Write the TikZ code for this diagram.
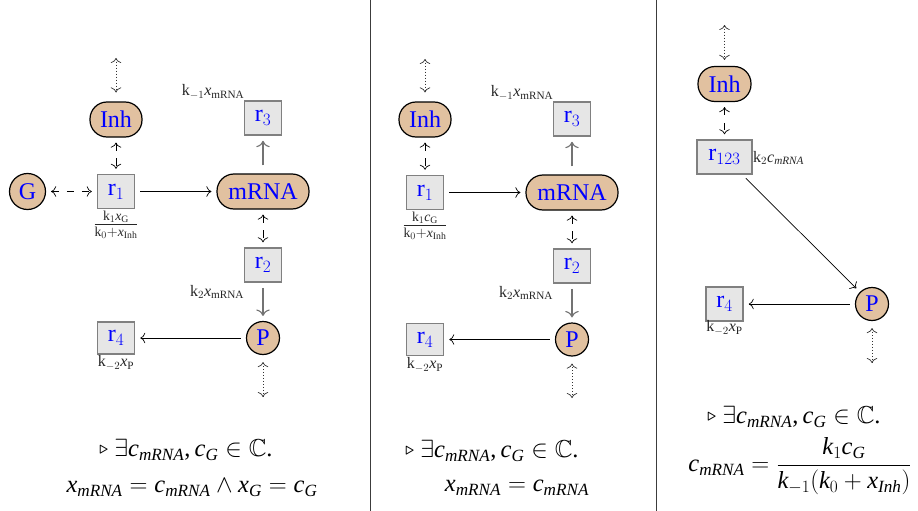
\documentclass[tikz,border=0pt]{standalone}
\usepackage{amsmath,amssymb}
\usepackage{fontspec}
\setmainfont{Liberation Serif}[NFSSFamily=libser]
\DeclareSymbolFont{cmlet}{OML}{cmm}{b}{it}
\DeclareMathSymbol{\trir}{\mathord}{cmlet}{"2E}
\DeclareSymbolFont{letters}{TU}{libser}{m}{it}
\DeclareSymbolFont{upright}{TU}{libser}{m}{n}
\DeclareMathSymbol{,}{\mathpunct}{upright}{"2C}
\DeclareMathSymbol{.}{\mathord}{upright}{"2E}
\newcommand\smalltri{\raisebox{0.12em}{\scalebox{0.62}{$\trir$}}}
\usetikzlibrary{arrows.meta}
\definecolor{spfill}{RGB}{225,193,160}
\definecolor{boxfill}{RGB}{230,230,230}
\definecolor{boxdraw}{RGB}{128,128,128}
\definecolor{divcol}{RGB}{60,60,60}
\newcommand\nodefont{\fontsize{24}{28}\selectfont}
\newcommand\labfont{\fontsize{16}{18}\selectfont}
\newcommand\fracfont{\fontsize{19.5}{22}\selectfont}
\newcommand\formfont{\fontsize{24.5}{30}\selectfont}
\tikzset{
  species/.style={rectangle, draw=black, line width=1.2pt, fill=spfill, text=blue, font=\nodefont, inner sep=0pt, rounded corners=17pt, minimum height=35pt},
  circ/.style={circle, draw=black, line width=1.2pt, fill=spfill, text=blue, font=\nodefont, inner sep=0pt},
  reac/.style={rectangle, draw=boxdraw, line width=1.5pt, fill=boxfill, text=blue, font=\nodefont, inner sep=0pt, minimum width=37pt, minimum height=34pt},
  lab/.style={font=\labfont, inner sep=0pt, text=black!85},
  fraclab/.style={font=\fracfont, inner sep=0pt, text=black!85},
  form/.style={font=\formfont, inner sep=0pt},
  conn/.style={-{To[scale=1.6]}, line width=0.7pt, shorten >=5pt, shorten <=5pt},
  gconn/.style={conn, draw=black!55, line width=1.1pt},
  dconn/.style={{To[scale=1.6]}-{To[scale=1.6]}, line width=0.7pt, dash pattern=on 7.5pt off 7.5pt, shorten >=5pt, shorten <=5pt},
  dotconn/.style={{To[scale=1.6]}-{To[scale=1.6]}, line width=0.7pt, draw=black!80, dash pattern=on 0.8pt off 2.2pt},
  divider/.style={draw=divcol, line width=0.8pt},
}
\begin{document}
\begin{tikzpicture}[x=1pt,y=-1pt]
\useasboundingbox (0,0) rectangle (918,511);
\draw[divider] (370,0) -- (370,511);
\draw[divider] (656,0) -- (656,511);

% ---------- Panel 1 ----------
\node[species, minimum width=52pt] (A-Inh) at (116,119.5) {Inh};
\node[reac] (A-r1) at (116,191.5) {$\mathrm{r}_1$};
\node[circ, minimum size=36pt] (A-G) at (27.5,191.5) {G};
\node[species, minimum width=92pt] (A-mRNA) at (263,191.5) {mRNA};
\node[reac] (A-r3) at (263,118) {$\mathrm{r}_3$};
\node[reac] (A-r2) at (263,265) {$\mathrm{r}_2$};
\node[circ, minimum size=33pt] (A-P) at (263,338) {P};
\node[reac, minimum height=32pt] (A-r4) at (116,338) {$\mathrm{r}_4$};
\coordinate (A-top) at (116,58);
\coordinate (A-bot) at (263,397);
\node[lab] (A-l3) at (213,92) {$\mathrm{k}_{-1}x_{\mathrm{mRNA}}$};
\node[fraclab] (A-l1) at (116,225) {$\frac{\mathrm{k}_1x_{\mathrm{G}}}{\mathrm{k}_0+x_{\mathrm{Inh}}}$};
\node[lab] (A-l2) at (217,292) {$\mathrm{k}_2x_{\mathrm{mRNA}}$};
\node[lab] (A-l4) at (116,363) {$\mathrm{k}_{-2}x_{\mathrm{P}}$};
\draw[dotconn, shorten >=9pt] (A-top) -- (A-Inh);
\draw[dconn] (A-G) -- (A-r1);
\draw[dconn] (A-Inh) -- (A-r1);
\draw[conn] (A-r1) -- (A-mRNA);
\draw[gconn, shorten <=8pt] (A-mRNA) -- (A-r3);
\draw[dconn] (A-mRNA) -- (A-r2);
\draw[gconn] (A-r2) -- (A-P);
\draw[conn] (A-P) -- (A-r4);
\draw[dotconn, shorten <=7pt] (A-P) -- (A-bot);
\node[form] (A-f1) at (186,450) {\smalltri\ $\exists c_{mRNA}, c_G \in \mathbb{C}.$};
\node[form] (A-f2) at (192,488) {$x_{mRNA} = c_{mRNA} \land x_G = c_G$};

% ---------- Panel 2 ----------
\node[species, minimum width=52pt] (B-Inh) at (425,119.5) {Inh};
\node[reac] (B-r1) at (425,192.5) {$\mathrm{r}_1$};
\node[species, minimum width=92pt] (B-mRNA) at (572,192.5) {mRNA};
\node[reac] (B-r3) at (572,119) {$\mathrm{r}_3$};
\node[reac] (B-r2) at (572,266) {$\mathrm{r}_2$};
\node[circ, minimum size=33pt] (B-P) at (572,339.5) {P};
\node[reac, minimum height=32pt] (B-r4) at (425,339.5) {$\mathrm{r}_4$};
\coordinate (B-top) at (425,59);
\coordinate (B-bot) at (572,398);
\node[lab] (B-l3) at (522,93) {$\mathrm{k}_{-1}x_{\mathrm{mRNA}}$};
\node[fraclab] (B-l1) at (425,226) {$\frac{\mathrm{k}_1c_{\mathrm{G}}}{\mathrm{k}_0+x_{\mathrm{Inh}}}$};
\node[lab] (B-l2) at (526,293) {$\mathrm{k}_2x_{\mathrm{mRNA}}$};
\node[lab] (B-l4) at (425,365) {$\mathrm{k}_{-2}x_{\mathrm{P}}$};
\draw[dotconn, shorten >=9pt] (B-top) -- (B-Inh);
\draw[dconn] (B-Inh) -- (B-r1);
\draw[conn] (B-r1) -- (B-mRNA);
\draw[gconn, shorten <=8pt] (B-mRNA) -- (B-r3);
\draw[dconn] (B-mRNA) -- (B-r2);
\draw[gconn] (B-r2) -- (B-P);
\draw[conn] (B-P) -- (B-r4);
\draw[dotconn, shorten <=7pt] (B-P) -- (B-bot);
\node[form] (B-f1) at (492,451) {\smalltri\ $\exists c_{mRNA}, c_G \in \mathbb{C}.$};
\node[form] (B-f2) at (517,488) {$x_{mRNA} = c_{mRNA}$};

% ---------- Panel 3 ----------
\node[species, minimum width=53pt] (C-Inh) at (724.5,84) {Inh};
\node[reac, minimum width=55pt] (C-r123) at (724.5,157) {$\mathrm{r}_{123}$};
\node[circ, minimum size=33pt] (C-P) at (872,304) {P};
\node[reac] (C-r4) at (724.5,304) {$\mathrm{r}_4$};
\coordinate (C-top) at (724.5,25);
\coordinate (C-bot) at (872,363);
\node[lab, anchor=west] (C-l1) at (753,158) {$\mathrm{k}_2c_{mRNA}$};
\node[lab] (C-l4) at (724.5,328) {$\mathrm{k}_{-2}x_{\mathrm{P}}$};
\draw[dotconn, shorten >=6pt] (C-top) -- (C-Inh);
\draw[dconn] (C-Inh) -- (C-r123);
\draw[conn] (C-r123) -- (C-P);
\draw[conn] (C-P) -- (C-r4);
\draw[dotconn, shorten <=7pt] (C-P) -- (C-bot);
\node[form] (C-f1) at (794,417) {\smalltri\ $\exists c_{mRNA}, c_G \in \mathbb{C}.$};
\node[form] (C-f2) at (800,466) {$c_{mRNA} = \dfrac{k_1 c_G}{k_{-1}(k_0 + x_{Inh})}$};
\end{tikzpicture}
\end{document}
